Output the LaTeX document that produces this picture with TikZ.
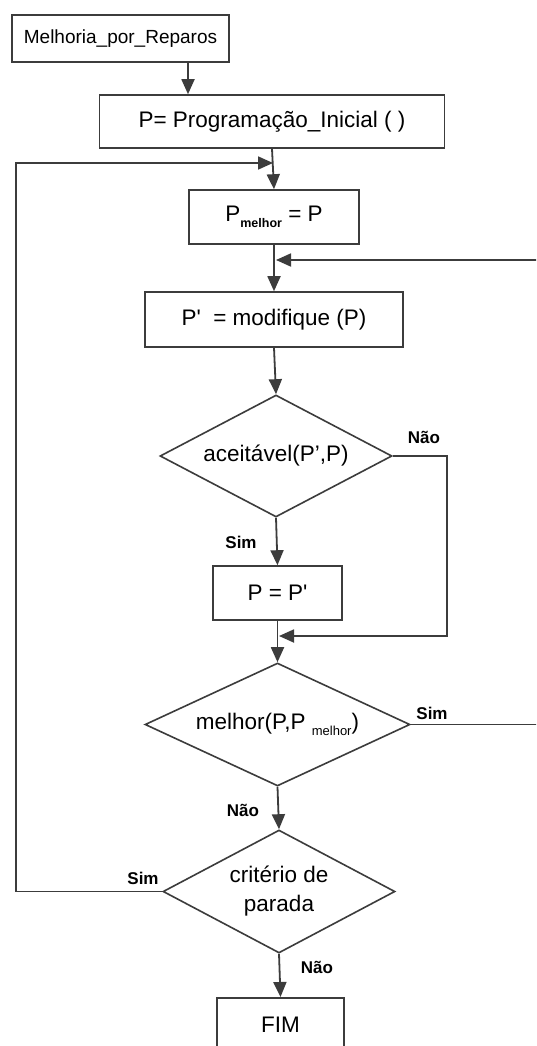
\documentclass[tikz,border=0pt]{standalone}
\usepackage{fontspec}
\setmainfont{Liberation Sans}
\usetikzlibrary{shapes.geometric,arrows.meta}
\definecolor{linegray}{HTML}{3C3C3C}
\newcommand{\sub}[2]{\raisebox{-6pt}{\fontsize{#1}{#1}\selectfont #2}}
\begin{document}
\begin{tikzpicture}[x=1pt,y=-1pt,
  flowbox/.style={draw=linegray, line width=1.6pt, rectangle, inner sep=0pt,
    font=\fontsize{22.5}{26}\selectfont},
  decision/.style={draw=linegray, line width=1.6pt, diamond, aspect=2, inner sep=0pt,
    align=center, font=\fontsize{22.5}{29}\selectfont},
  flow/.style={draw=linegray, line width=1.8pt, -{Triangle[length=15pt,width=13pt]}},
  tag/.style={font=\fontsize{17}{17}\selectfont\bfseries, inner sep=0pt}]
\path[use as bounding box, clip] (0,0) rectangle (536,1046);
\fill[white] (0,0) rectangle (536,1046);

% process steps
\node[flowbox, minimum width=217pt, minimum height=47pt,
  font=\fontsize{19}{22}\selectfont] (start) at (120.5,38.5) {Melhoria\_por\_Reparos};
\node[flowbox, minimum width=345pt, minimum height=53pt] (init) at (272,121.5)
  {P= Programação\_Inicial ( )};
\node[flowbox, minimum width=170pt, minimum height=54pt] (best) at (274,217)
  {P\sub{12.5}{\bfseries melhor} = P};
\node[flowbox, minimum width=258pt, minimum height=55pt] (modify) at (274,319.5)
  {P\textquotesingle\ \ = modifique (P)};
\node[decision, minimum width=232pt, minimum height=122pt] (accept) at (276,456)
  {aceitável(P’,P)};
\node[flowbox, minimum width=129pt, minimum height=54pt] (update) at (277.5,593)
  {P = P\textquotesingle};
\node[decision, minimum width=265pt, minimum height=123pt] (better) at (277.5,724.5)
  {melhor(P,P \sub{13}{melhor})};
\node[decision, minimum width=232pt, minimum height=123pt] (stop) at (279,891.5)
  {critério de\\parada};
\node[flowbox, minimum width=127pt, minimum height=54pt, anchor=north] (fim) at (280.5,997)
  {FIM};

% junctions and turning points of the loops
\coordinate (j1) at (273,163);
\coordinate (j2) at (276,260);
\coordinate (j3) at (279,636);
\coordinate (lft) at (16,163);
\coordinate (rgt) at (570,260);
\coordinate (nao) at (447,636);

% main flow
\draw[flow] ([xshift=67.5pt]start.south) -- ([xshift=67.5pt]start.south |- init.north);
\draw[flow] (init.south) -- (best.north);
\draw[flow] (best.south) -- (modify.north);
\draw[flow] (modify.south) -- (accept.north);
\draw[flow] (accept.south) -- (update.north);
\draw[flow] (update.south) -- (better.north);
\draw[flow] (better.south) -- (stop.north);
\draw[flow] (stop.south) -- (fim.north);

% loops
\draw[flow] (stop.west) -| (lft) -- (j1);
\draw[flow] (better.east) -| (rgt) -- (j2);
\draw[flow] (accept.east) -| (nao) -- (j3);

% branch labels
\node[tag] (t1) at (424,437) {Não};
\node[tag] (t2) at (241,542) {Sim};
\node[tag] (t3) at (432,713) {Sim};
\node[tag] (t4) at (243,810) {Não};
\node[tag] (t5) at (143,878) {Sim};
\node[tag] (t6) at (317,967) {Não};
\end{tikzpicture}
\end{document}
